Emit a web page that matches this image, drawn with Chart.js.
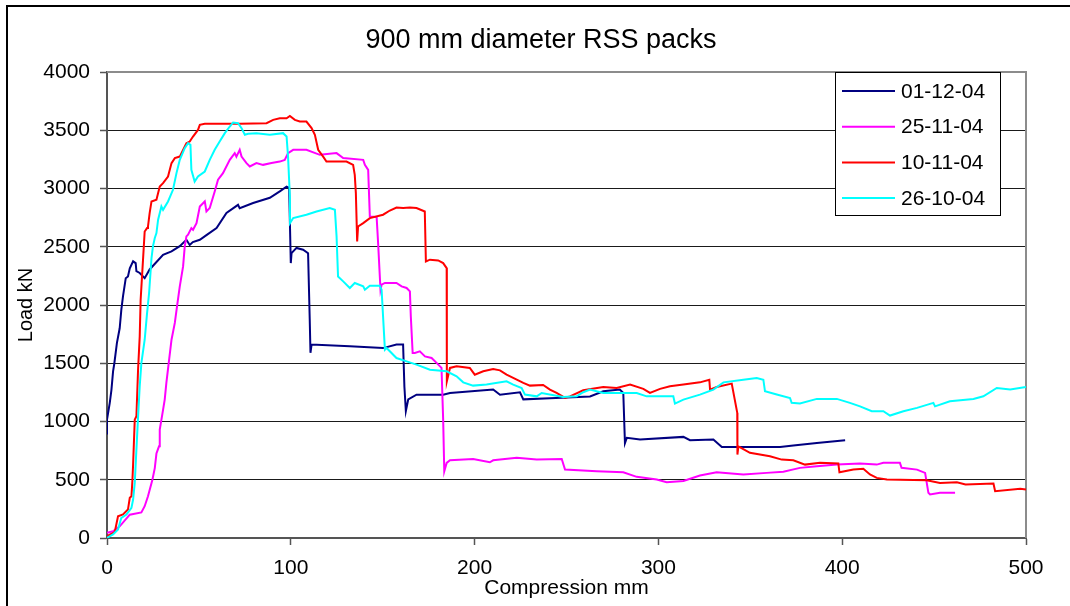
<!DOCTYPE html>
<html>
<head>
<meta charset="utf-8">
<title>900 mm diameter RSS packs</title>
<script src="https://cdn.jsdelivr.net/npm/chart.js@4"></script>
<style>
  html, body { margin: 0; padding: 0; background: #fff; }
  #wrap { width: 1070px; height: 606px; }
</style>
</head>
<body>
<div id="wrap"><canvas id="myChart" width="1070" height="606"></canvas></div>
<script>
// titulo y nombres de cada ensayo
const titulo = '900 mm diameter RSS packs';
const ensayos = ['01-12-04', '25-11-04', '10-11-04', '26-10-04'];
const colores = ['#000080', '#FF00FF', '#FF0000', '#00FFFF'];

// ticks de los ejes
const xTicks = [0, 100, 200, 300, 400, 500];
const yTicks = [0, 500, 1000, 1500, 2000, 2500, 3000, 3500, 4000];

// ensayo 01-12-04 : compresion (mm) y carga (kN)
const comp011204 = [0,0,1.5,2.4,3.3,4,5.4,6.9,7.8,8.7,10.2,11.4,12.4,14.2,15.6,16,17.8,20.5,23.2,30.5,
  35.1,39.6,43.2,45,46.7,50.5,54.1,59.6,65,71.3,72.2,79.5,88.6,94,97.7,99.1,100,100.4,103.1,106.7,
  109.4,110.3,110.7,111.3,132.1,150.2,157.5,161.1,161.8,162.6,163.9,168.4,182.9,186.6,210.1,213.8,224.7,226.5,241,262.8,
  270,279,280.9,281.8,282.8,290,313.6,317.2,329.9,334.5,366.2,373.4,386.2,401.6];
const carga011204 = [888,1016,1160,1270,1430,1500,1675,1800,1960,2075,2230,2245,2315,2375,2360,2290,2275,2230,2305,2430,
  2460,2505,2560,2515,2540,2560,2600,2660,2790,2860,2830,2875,2920,2975,3015,3005,2360,2445,2490,2475,
  2445,1875,1590,1660,1645,1630,1660,1660,1300,1090,1190,1230,1230,1245,1275,1230,1250,1190,1200,1215,
  1260,1275,1245,815,860,845,868,840,845,782,782,793,816,840];

// ensayo 25-11-04
const comp251104 = [0,3.3,6.9,12.4,18.7,20.5,22.3,24.7,26,26.9,28.3,28.7,30.5,31.4,32.3,33.8,35.1,36.9,38.1,39.6,
  41.4,42.3,43.2,44.1,45.9,46.8,48.7,50.5,53.2,54.1,55.9,58.6,60.4,63.1,66.8,69.5,70.4,72.2,73.2,75.9,
  77.7,81.3,84.9,89.5,94,96.7,98.5,101.3,108.5,115.8,124.9,128.5,139.4,140.3,142.1,143,146.7,147.5,148.8,149.4,
  151.2,157.5,160.3,163,164.8,165.3,166.3,167.5,170.2,173,176.6,179.3,182,182.9,183.5,184.8,186.6,199.2,208.3,210.1,
  222.9,233.8,247.4,249.2,266.4,280.9,288.2,299.1,304.5,313.6,322.6,331.7,346.2,358.9,368,377,386.2,397.1,409.7,418.8,
  422.4,431.4,432.3,440.7,445.1,446.9,447.8,453.2,461.4];
const carga251104 = [45,58,100,200,220,273,358,500,600,725,787,930,1100,1188,1331,1531,1702,1846,1988,2160,
  2331,2503,2589,2603,2660,2646,2703,2846,2889,2803,2832,2975,3075,3132,3246,3304,3274,3332,3274,3218,
  3189,3218,3203,3218,3231,3246,3304,3332,3332,3289,3304,3261,3246,3203,3160,2760,2755,2532,2131,2174,
  2189,2189,2160,2146,2117,1902,1588,1588,1602,1559,1545,1503,1460,1016,573,645,667,679,650,667,
  688,673,679,587,573,564,525,502,479,490,536,564,545,559,568,602,616,630,639,630,
  645,645,602,587,559,388,373,388,388];

// ensayo 10-11-04
const comp101104 = [0,4.2,6,8.7,11.4,12.4,13.3,13.8,14.2,15.1,16,16.9,17.8,18.3,19.6,20.5,21.8,22.3,23.2,24.2,
  26.9,28.7,30.5,33.2,35.1,36.9,39.6,41.4,43.2,45,46.8,49.5,50.5,53.2,72.2,86.8,90.4,94,97.7,99.5,
  102.2,104.9,108.5,111.3,113.1,114.9,117.6,119.4,130.3,133.9,134.8,135.4,136.1,136.6,139.4,143,150.2,153.9,157.5,161.1,
  164.8,168.4,172.9,173.5,175.7,180.2,182.9,184.8,184.9,186.6,190.2,197.4,200.1,204.7,210.1,213.8,217.4,221,226.5,230.1,
  237.3,241,244.6,249.2,251.9,259.1,270,277.3,284.6,291.8,295.4,300.9,306.3,313.6,322.6,327.7,328.1,331.7,339.9,342.9,
  343,343.5,349.8,360.7,367.1,373.4,379.8,387.9,397.9,398.5,406.1,411.5,415.1,418.8,424.3,446,453.2,462.4,467.1,482.3,
  483.2,496.9,500];
const carga101104 = [15,50,187,202,244,345,358,487,630,1016,1045,1445,1731,2045,2389,2631,2660,2674,2789,2889,
  2903,3017,3046,3103,3218,3261,3274,3332,3389,3403,3446,3503,3546,3555,3555,3561,3589,3603,3603,3623,
  3589,3575,3575,3518,3461,3332,3274,3231,3231,3203,3117,2960,2546,2674,2703,2746,2775,2811,2837,2832,
  2837,2832,2803,2374,2389,2383,2360,2317,1345,1460,1474,1460,1402,1431,1451,1439,1402,1374,1331,1308,
  1314,1274,1245,1202,1216,1268,1297,1288,1317,1280,1245,1280,1302,1317,1336,1359,1274,1297,1325,1074,
  716,787,731,702,673,667,630,645,639,564,587,594,545,516,502,496,473,479,459,468,
  402,422,416];

// ensayo 26-10-04
const comp261004 = [0,3.3,6,7.8,10.6,13.3,14.2,15.1,16,16.9,17.8,18.7,20.5,21.8,22.9,24.2,25,26,26.9,27.8,
  29.6,30.5,33.2,35.9,37.8,39.6,42.3,44.1,45.4,45.9,47.7,49.5,53.2,55.9,58.6,61.3,64.1,66.8,68.6,71.3,
  73.2,75,76.8,81.3,88.6,95.8,97.7,98.5,99.5,99.6,101.3,108.5,114,121.2,124,124.9,125.7,128.5,132.1,134.8,
  139.4,140.3,143,148.4,149.4,151.2,152.1,157.5,163,168.4,175.7,184.8,190.2,193.8,199.2,206.5,217.4,221,225.6,227.4,
  233.8,236.5,248.2,255.5,259.1,262.8,270,288.2,293.6,308.1,309,313.6,322.6,329.9,335.4,346.2,353.5,357.1,358,364.4,
  371.6,372.5,377,386.2,397.1,404.2,409.7,416.1,422.4,426,433.3,440.7,449.6,450.5,458.6,471.4,476.8,484.1,491.4,500];
const carga261004 = [2,30,73,173,202,259,330,473,759,1040,1302,1502,1702,1931,2103,2400,2503,2575,2618,2732,
  2846,2817,2889,2989,3132,3246,3346,3389,3375,3160,3060,3103,3146,3246,3332,3403,3475,3532,3567,3561,
  3518,3461,3469,3475,3461,3475,3446,3274,2932,2703,2746,2775,2803,2832,2817,2589,2245,2203,2146,2189,
  2160,2131,2166,2166,2131,1617,1631,1545,1516,1488,1445,1431,1388,1336,1308,1317,1345,1317,1288,1231,
  1216,1245,1211,1216,1251,1274,1245,1245,1216,1216,1154,1188,1231,1274,1336,1359,1374,1359,1259,1231,
  1202,1160,1154,1194,1194,1160,1130,1088,1088,1051,1088,1117,1160,1130,1174,1194,1216,1288,1274,1297];

const fuente = "'Liberation Sans', Arial, sans-serif";
Chart.defaults.font.family = fuente;
Chart.defaults.color = '#000';

// junta compresion y carga en puntos {x, y}
const puntos = (xs, ys) => xs.map((x, i) => ({ x: x, y: ys[i] }));

const datos = [
  puntos(comp011204, carga011204),
  puntos(comp251104, carga251104),
  puntos(comp101104, carga101104),
  puntos(comp261004, carga261004)
];

// marco exterior, titulo, borde del area del grafico y leyenda
const marco = {
  id: 'marco',
  beforeDraw(chart) {
    const ctx = chart.ctx;
    ctx.save();
    ctx.fillStyle = '#fff';
    ctx.fillRect(0, 0, chart.width, chart.height);
    ctx.strokeStyle = '#000';
    ctx.lineWidth = 2;
    ctx.beginPath();
    ctx.moveTo(7, chart.height);
    ctx.lineTo(7, 6);
    ctx.lineTo(chart.width, 6);
    ctx.stroke();
    ctx.fillStyle = '#000';
    ctx.font = '27px ' + fuente;
    ctx.textAlign = 'center';
    ctx.textBaseline = 'alphabetic';
    ctx.fillText(titulo, 541, 48);
    ctx.restore();
  },
  beforeDatasetsDraw(chart) {
    const { ctx, chartArea } = chart;
    ctx.save();
    ctx.strokeStyle = '#8c8c8c';
    ctx.lineWidth = 2;
    ctx.beginPath();
    ctx.moveTo(chartArea.left, chartArea.top);
    ctx.lineTo(chartArea.right, chartArea.top);
    ctx.lineTo(chartArea.right, chartArea.bottom);
    ctx.stroke();
    ctx.restore();
  },
  afterDraw(chart) {
    const ctx = chart.ctx;
    const x0 = 835, y0 = 72, ancho = 165, alto = 143;
    ctx.save();
    ctx.fillStyle = '#fff';
    ctx.fillRect(x0, y0, ancho, alto);
    ctx.strokeStyle = '#000';
    ctx.lineWidth = 1;
    ctx.strokeRect(x0 + 0.5, y0 + 0.5, ancho, alto);
    ctx.font = '21px ' + fuente;
    ctx.textAlign = 'left';
    ctx.textBaseline = 'middle';
    chart.data.datasets.forEach((ds, i) => {
      const y = y0 + 19 + i * 35.7;
      ctx.strokeStyle = ds.borderColor;
      ctx.lineWidth = 2;
      ctx.beginPath();
      ctx.moveTo(x0 + 7, y);
      ctx.lineTo(x0 + 60, y);
      ctx.stroke();
      ctx.fillStyle = '#000';
      ctx.fillText(ds.label, x0 + 66, y + 1);
    });
    ctx.restore();
  }
};

const ctx = document.getElementById('myChart');
const myChart = new Chart(ctx, {
  type: 'line',
  data: {
    datasets: ensayos.map((nombre, i) => ({
      label: nombre,
      data: datos[i],
      borderColor: colores[i],
      backgroundColor: colores[i],
      borderWidth: 2,
      pointRadius: 0,
      tension: 0,
      fill: false,
      order: ensayos.length - 1 - i
    }))
  },
  plugins: [marco],
  options: {
    responsive: false,
    animation: false,
    layout: { padding: { left: 0, right: 44, top: 72, bottom: 0 } },
    plugins: {
      legend: { display: false },
      title: { display: false },
      tooltip: { enabled: false }
    },
    scales: {
      x: {
        type: 'linear',
        min: 0,
        max: 500,
        afterBuildTicks: (scale) => { scale.ticks = xTicks.map(v => ({ value: v })); },
        afterFit: (scale) => { scale.height = 68; },
        ticks: { font: { size: 21 }, padding: 11, color: '#000', maxRotation: 0, callback: (v) => String(v) },
        grid: { drawOnChartArea: false, drawTicks: true, tickLength: 7, tickColor: '#555', tickWidth: 1.5 },
        border: { color: '#555', width: 2 },
        title: { display: true, text: 'Compression mm', font: { size: 21 }, color: '#000', padding: { top: 0, bottom: 5 } }
      },
      y: {
        min: 0,
        max: 4000,
        afterBuildTicks: (scale) => { scale.ticks = yTicks.map(v => ({ value: v })); },
        afterFit: (scale) => { scale.width = 107; },
        ticks: { font: { size: 21 }, padding: 10, color: '#000', callback: (v) => String(v) },
        grid: {
          color: (c) => (c.tick && c.tick.value === 4000 ? '#8c8c8c' : '#1a1a1a'),
          lineWidth: 1,
          drawTicks: true,
          tickLength: 7,
          tickColor: '#555',
          tickWidth: 1.5
        },
        border: { color: '#555', width: 2 },
        title: { display: true, text: 'Load kN', font: { size: 20 }, color: '#000', padding: { top: 14, bottom: 0 } }
      }
    }
  }
});
</script>
</body>
</html>
